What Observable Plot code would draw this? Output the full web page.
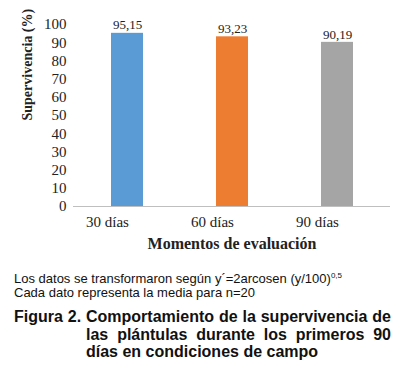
<!DOCTYPE html>
<html>
<head>
<meta charset="utf-8">
<script src="https://cdn.jsdelivr.net/npm/d3@7"></script>
<script src="https://cdn.jsdelivr.net/npm/@observablehq/plot@0.6"></script>
<style>
  html, body { margin: 0; padding: 0; background: #fff; }
  #wrap { width: 412px; height: 372px; overflow: hidden; }
  #chart svg { display: block; }
  .note { font-family: "Liberation Sans", Arial, sans-serif; font-size: 13px; line-height: 14px; color: #111; margin: 14px 0 0 14px; }
  .note sup { font-size: 8px; vertical-align: 5px; line-height: 0; }
  .fig { font-family: "Liberation Sans", Arial, sans-serif; font-weight: bold; font-size: 16px; line-height: 17.5px; color: #111;
         margin: 8px 0 0 0; padding-left: 86px; width: 305px; text-indent: -72px; text-align: justify; }
</style>
</head>
<body>
<div id="wrap">
  <div id="chart"></div>
  <div class="note">Los datos se transformaron según y´=2arcosen (y/100)<sup>0,5</sup><br>Cada dato representa la media para n=20</div>
  <div class="fig">Figura 2. Comportamiento de la supervivencia de las plántulas durante los primeros 90 días en condiciones de campo</div>
</div>
<script>
const categories = ["30 días", "60 días", "90 días"];
const values = [95.15, 93.23, 90.19];
const colors = ["#5B9BD5", "#ED7D31", "#A5A5A5"];
const yTicks = [0, 10, 20, 30, 40, 50, 60, 70, 80, 90, 100];
const yTitle = "Supervivencia (%)";
const xTitle = "Momentos de evaluación";

const data = categories.map((c, i) => ({cat: c, value: values[i], color: colors[i]}));
const fmt = v => v.toFixed(2).replace(".", ",");
const serif = "'Liberation Serif', 'Times New Roman', serif";

const chart = Plot.plot({
  width: 412,
  height: 258,
  marginLeft: 73,
  marginRight: 22,
  marginTop: 24,
  marginBottom: 52,
  style: {fontFamily: serif, color: "#222", background: "#fff"},
  x: {domain: categories, paddingInner: 0.7, paddingOuter: 0.35, axis: null},
  y: {domain: [0, 100], axis: null},
  marks: [
    Plot.barY(data, {x: "cat", y: "value", fill: "color"}),
    Plot.ruleY([0], {stroke: "#bfbfbf", strokeWidth: 1}),
    Plot.ruleX([0], {frameAnchor: "left", y1: 0, y2: 100, stroke: "#bfbfbf", strokeWidth: 1}),
    Plot.axisY({ticks: yTicks, tickSize: 0, tickPadding: 7, fontSize: 15, label: null, tickFormat: d => d}),
    Plot.axisX({tickSize: 0, tickPadding: 10, fontSize: 15, label: null, dx: -20}),
    Plot.text(data, {x: "cat", y: "value", text: d => fmt(d.value), dy: -8, fontSize: 13, fill: "#222"}),
    Plot.text([xTitle], {frameAnchor: "bottom", dy: 42, fontSize: 16, fontWeight: "bold", fill: "#222"}),
    Plot.text([yTitle], {frameAnchor: "left", rotate: -90, dx: -46, dy: 5, fontSize: 14, fontWeight: "bold", fill: "#222"})
  ]
});
document.getElementById("chart").appendChild(chart);
</script>
</body>
</html>
